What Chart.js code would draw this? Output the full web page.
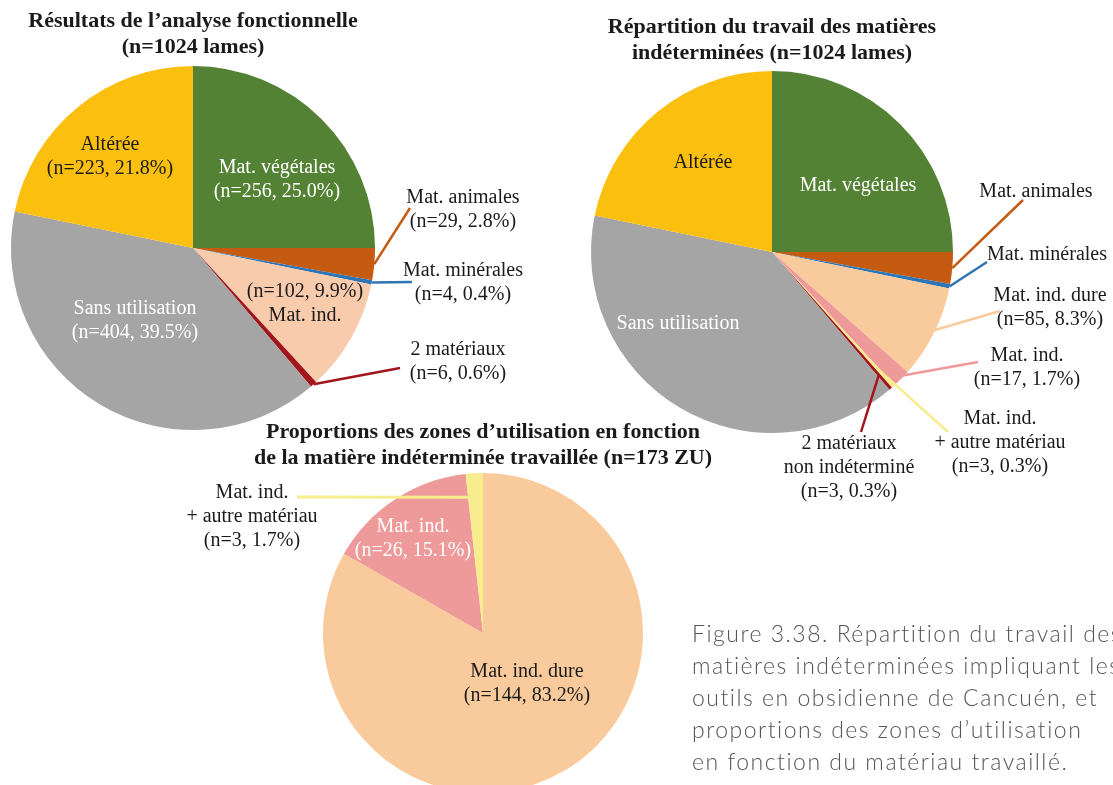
<!DOCTYPE html>
<html>
<head>
<meta charset="utf-8">
<title>Analyse fonctionnelle - matières indéterminées</title>
<script src="https://cdn.jsdelivr.net/npm/chart.js@4.4.0/dist/chart.umd.min.js"></script>
<style>
  body { margin: 0; width: 1113px; height: 785px; overflow: hidden; background: #fff; position: relative; }
  canvas { position: absolute; }
  #c1 { left: 0; top: 0; }
  #c2 { left: 560px; top: 0; }
  #c3 { left: 160px; top: 410px; }
  #caption {
    position: absolute; left: 692px; top: 617px;
    font-family: Lato, "Open Sans", sans-serif; font-weight: 300;
    font-size: 23px; letter-spacing: 1.5px; line-height: 32px; color: #555; white-space: nowrap;
  }
</style>
</head>
<body>
<canvas id="c1" width="560" height="450"></canvas>
<canvas id="c2" width="553" height="520"></canvas>
<canvas id="c3" width="600" height="400"></canvas>
<div id="caption">Figure 3.38. Répartition du travail des<br>matières indéterminées impliquant les<br>outils en obsidienne de Cancuén, et<br>proportions des zones d’utilisation<br>en fonction du matériau travaillé.</div>

<script>
// chart 1 : résultats de l'analyse fonctionnelle
var categories1 = ["Mat. végétales", "Mat. animales", "Mat. minérales", "Mat. ind.", "2 matériaux", "Sans utilisation", "Altérée"];
var counts1 = [256, 29, 4, 102, 6, 404, 223];
var percents1 = ["25.0", "2.8", "0.4", "9.9", "0.6", "39.5", "21.8"];

// chart 2 : répartition du travail des matières indéterminées
var categories2 = ["Mat. végétales", "Mat. animales", "Mat. minérales", "Mat. ind. dure", "Mat. ind.",
    ["Mat. ind.", "+ autre matériau"], ["2 matériaux", "non indéterminé"], "Sans utilisation", "Altérée"];
var counts2 = [256, 29, 4, 85, 17, 3, 3, 404, 223];
var percents2 = ["25.0", "2.8", "0.4", "8.3", "1.7", "0.3", "0.3", "39.5", "21.8"];

// chart 3 : zones d'utilisation
var categories3 = ["Mat. ind. dure", "Mat. ind.", ["Mat. ind.", "+ autre matériau"]];
var counts3 = [144, 26, 3];
var percents3 = ["83.2", "15.1", "1.7"];

var colors1 = ["#548235", "#C55A11", "#2E75B6", "#F8CBAD", "#A1161C", "#A5A5A5", "#FBBF10"];
var colors2 = ["#548235", "#C55A11", "#2E75B6", "#F9CB9C", "#EF9A9A", "#F7EC8E", "#A1161C", "#A5A5A5", "#FBBF10"];
var colors3 = ["#F9CB9C", "#EF9A9A", "#F7EC8E"];

var SERIF = '"Liberation Serif", "DejaVu Serif", serif';
var DARK = "#1a1a1a";

// labels drawn next to slices, with optional leader line
// dx/dy = text centre from pie centre, line = [start fraction of radius, end dx, end dy]
var sliceLabels = {
    id: "sliceLabels",
    afterDraw: function (chart, args, opts) {
        var ctx = chart.ctx;
        var ds = chart.data.datasets[0];
        var arcs = chart.getDatasetMeta(0).data;
        ctx.save();

        opts.items.forEach(function (item, i) {
            if (!item || !item.line) return;
            var p = arcs[i].getProps(["x", "y", "startAngle", "endAngle", "outerRadius"], true);
            var mid = (p.startAngle + p.endAngle) / 2;
            ctx.strokeStyle = ds.backgroundColor[i];
            ctx.lineWidth = item.lw || 2.5;
            ctx.beginPath();
            ctx.moveTo(p.x + Math.cos(mid) * p.outerRadius * item.line[0], p.y + Math.sin(mid) * p.outerRadius * item.line[0]);
            ctx.lineTo(p.x + item.line[1], p.y + item.line[2]);
            ctx.stroke();
        });

        ctx.font = "20px " + SERIF;
        ctx.textAlign = "center";
        ctx.textBaseline = "middle";
        opts.items.forEach(function (item, i) {
            if (!item) return;
            var p = arcs[i].getProps(["x", "y"], true);
            var name = chart.data.labels[i];
            var nameLines = Array.isArray(name) ? name : [name];
            var nums = "(n=" + ds.data[i] + ", " + opts.percents[i] + "%)";
            var lines;
            if (item.fmt === "name") lines = nameLines;
            else if (item.fmt === "rev") lines = [nums].concat(nameLines);
            else lines = nameLines.concat([nums]);

            ctx.fillStyle = item.color || DARK;
            var y0 = p.y + item.dy - (lines.length - 1) * 24 / 2;
            lines.forEach(function (t, k) {
                ctx.fillText(t, p.x + item.dx, y0 + k * 24);
            });
        });
        ctx.restore();
    }
};

function makePie(id, labels, counts, percents, colors, title, pad, titlePad, items) {
    return new Chart(document.getElementById(id), {
        type: "pie",
        data: {
            labels: labels,
            datasets: [{
                data: counts,
                backgroundColor: colors,
                borderWidth: 0,
                hoverOffset: 0
            }]
        },
        options: {
            responsive: false,
            animation: false,
            events: [],
            layout: { padding: pad },
            plugins: {
                legend: { display: false },
                tooltip: { enabled: false },
                title: {
                    display: true,
                    text: title,
                    color: DARK,
                    font: { family: SERIF, size: 22, weight: "bold", lineHeight: 1.2 },
                    padding: titlePad
                },
                sliceLabels: { items: items, percents: percents }
            }
        },
        plugins: [sliceLabels]
    });
}

makePie("c1", categories1, counts1, percents1, colors1,
    ["Résultats de l’analyse fonctionnelle", "(n=1024 lames)"],
    { left: 11, right: 185, top: 0, bottom: 20 }, { top: 8, bottom: 5.2 },
    [
        { dx: 84, dy: -68, color: "#fff" },
        { dx: 270, dy: -38, line: [1, 217, -40] },
        { dx: 270, dy: 35, line: [1, 219, 34] },
        { dx: 112, dy: 56, fmt: "rev" },
        { dx: 265, dy: 114, line: [1, 207, 120] },
        { dx: -58, dy: 73, color: "#fff" },
        { dx: -83, dy: -91 }
    ]);

makePie("c2", categories2, counts2, percents2, colors2,
    ["Répartition du travail des matières", "indéterminées (n=1024 lames)"],
    { left: 31, right: 160, top: 0, bottom: 87 }, { top: 14, bottom: 4.2 },
    [
        { dx: 86, dy: -66, color: "#fff", fmt: "name" },
        { dx: 264, dy: -60, fmt: "name", line: [1, 251, -52] },
        { dx: 275, dy: 3, fmt: "name", line: [1, 215, 10] },
        { dx: 278, dy: 56, line: [0.98, 228, 59] },
        { dx: 255, dy: 116, line: [0.98, 206, 110] },
        { dx: 228, dy: 191, line: [0.85, 176, 180] },
        { dx: 77, dy: 216, line: [0.9, 89, 180] },
        { dx: -94, dy: 72, color: "#fff", fmt: "name" },
        { dx: -69, dy: -89, fmt: "name" }
    ]);

// wide chart area so the long title is not squeezed; pie stays centred at x=323
makePie("c3", categories3, counts3, percents3, colors3,
    ["Proportions des zones d’utilisation en fonction", "de la matière indéterminée travaillée (n=173 ZU)"],
    { left: 63, right: 17, top: 0, bottom: 17 }, { top: 9, bottom: 1.2 },
    [
        { dx: 44, dy: 51 },
        { dx: -70, dy: -94, color: "#fff" },
        { dx: -231, dy: -116, line: [0.85, -186, -136], lw: 3 }
    ]);
</script>
</body>
</html>
